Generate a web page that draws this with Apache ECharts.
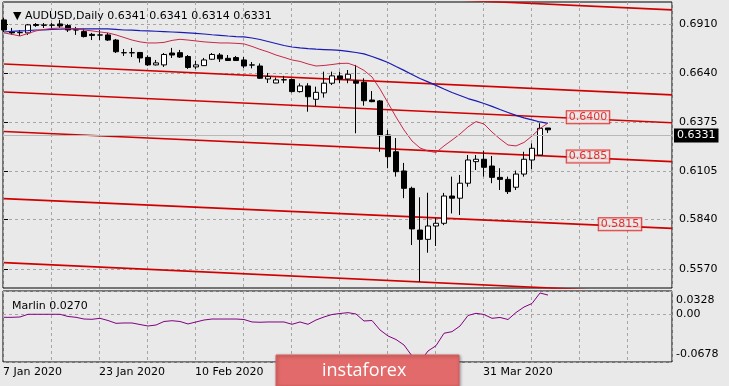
<!DOCTYPE html>
<html><head><meta charset="utf-8">
<script src="https://cdn.jsdelivr.net/npm/echarts@6/dist/echarts.min.js"></script>
<style>html,body{margin:0;padding:0;background:#e9e9e9}#c{width:729px;height:386px}</style>
</head><body><div id="c"></div>
<script>
const symbolName = 'AUDUSD,Daily';
const dates = ['7 Jan 2020','8 Jan 2020','9 Jan 2020','10 Jan 2020','13 Jan 2020','14 Jan 2020','15 Jan 2020','16 Jan 2020','17 Jan 2020','20 Jan 2020',
'21 Jan 2020','22 Jan 2020','23 Jan 2020','24 Jan 2020','27 Jan 2020','28 Jan 2020','29 Jan 2020','30 Jan 2020','31 Jan 2020','3 Feb 2020',
'4 Feb 2020','5 Feb 2020','6 Feb 2020','7 Feb 2020','10 Feb 2020','11 Feb 2020','12 Feb 2020','13 Feb 2020','14 Feb 2020','17 Feb 2020',
'18 Feb 2020','19 Feb 2020','20 Feb 2020','21 Feb 2020','24 Feb 2020','25 Feb 2020','26 Feb 2020','27 Feb 2020','28 Feb 2020','2 Mar 2020',
'3 Mar 2020','4 Mar 2020','5 Mar 2020','6 Mar 2020','9 Mar 2020','10 Mar 2020','11 Mar 2020','12 Mar 2020','13 Mar 2020','16 Mar 2020',
'17 Mar 2020','18 Mar 2020','19 Mar 2020','20 Mar 2020','23 Mar 2020','24 Mar 2020','25 Mar 2020','26 Mar 2020','27 Mar 2020','30 Mar 2020',
'31 Mar 2020','1 Apr 2020','2 Apr 2020','3 Apr 2020','6 Apr 2020','7 Apr 2020','8 Apr 2020','9 Apr 2020','10 Apr 2020'];
const opens = [0.6932,0.6866,0.6862,0.6861,0.6907,0.6904,0.6903,0.6910,0.6901,0.6878,
0.6868,0.6853,0.6850,0.6850,0.6822,0.6752,0.6753,0.6754,0.6727,0.6686,
0.6686,0.6751,0.6753,0.6732,0.6675,0.6682,0.6717,0.6740,0.6722,0.6726,
0.6713,0.6686,0.6680,0.6609,0.6587,0.6604,0.6606,0.6540,0.6571,0.6498,
0.6533,0.6586,0.6626,0.6609,0.6598,0.6591,0.6494,0.6489,0.6303,0.6211,
0.6106,0.6011,0.5783,0.5732,0.5805,0.5820,0.5969,0.5957,0.6039,0.6157,
0.6170,0.6133,0.6071,0.6060,0.6017,0.6089,0.6166,0.6193,0.6341];
const highs = [0.6943,0.6888,0.6877,0.6910,0.6915,0.6915,0.6915,0.6932,0.6910,0.6894,
0.6883,0.6861,0.6877,0.6861,0.6828,0.6773,0.6779,0.6757,0.6738,0.6713,
0.6751,0.6779,0.6768,0.6740,0.6709,0.6724,0.6751,0.6751,0.6740,0.6735,
0.6729,0.6702,0.6694,0.6642,0.6617,0.6626,0.6612,0.6585,0.6586,0.6567,
0.6649,0.6649,0.6649,0.6658,0.6686,0.6613,0.6543,0.6494,0.6330,0.6286,
0.6150,0.6020,0.5962,0.5987,0.5849,0.5986,0.6075,0.6084,0.6193,0.6193,
0.6217,0.6188,0.6121,0.6075,0.6108,0.6211,0.6257,0.6367,0.6341];
const lows = [0.6866,0.6850,0.6844,0.6850,0.6894,0.6888,0.6888,0.6888,0.6866,0.6850,
0.6836,0.6822,0.6822,0.6817,0.6751,0.6735,0.6729,0.6699,0.6680,0.6683,
0.6675,0.6724,0.6724,0.6664,0.6664,0.6680,0.6713,0.6702,0.6708,0.6708,
0.6669,0.6667,0.6609,0.6587,0.6586,0.6586,0.6535,0.6535,0.6430,0.6461,
0.6507,0.6576,0.6586,0.6586,0.6312,0.6463,0.6482,0.6211,0.6121,0.6075,
0.5957,0.5701,0.5500,0.5659,0.5696,0.5810,0.5874,0.5865,0.6020,0.6111,
0.6075,0.6039,0.6002,0.5980,0.6002,0.6075,0.6115,0.6193,0.6314];
const closes = [0.6877,0.6861,0.6864,0.6905,0.6902,0.6903,0.6904,0.6899,0.6877,0.6877,
0.6841,0.6847,0.6849,0.6822,0.6758,0.6753,0.6752,0.6724,0.6686,0.6697,
0.6743,0.6740,0.6729,0.6672,0.6686,0.6713,0.6743,0.6719,0.6710,0.6710,
0.6680,0.6685,0.6613,0.6622,0.6604,0.6605,0.6540,0.6571,0.6512,0.6536,
0.6586,0.6626,0.6609,0.6635,0.6586,0.6490,0.6485,0.6299,0.6184,0.6102,
0.6011,0.5789,0.5732,0.5805,0.5820,0.5969,0.5957,0.6039,0.6166,0.6170,
0.6126,0.6071,0.6060,0.5993,0.6089,0.6170,0.6230,0.6339,0.6331];
const maSlow = [0.6866,0.6869,0.6872,0.6874,0.6877,0.6878,0.6880,0.6881,0.6883,0.6883,
0.6883,0.6883,0.6883,0.6883,0.6880,0.6877,0.6876,0.6873,0.6872,0.6870,
0.6868,0.6866,0.6864,0.6861,0.6858,0.6855,0.6851,0.6848,0.6844,0.6841,
0.6839,0.6833,0.6825,0.6814,0.6803,0.6792,0.6784,0.6779,0.6775,0.6772,
0.6770,0.6768,0.6765,0.6760,0.6754,0.6746,0.6732,0.6716,0.6699,0.6677,
0.6656,0.6634,0.6612,0.6593,0.6574,0.6554,0.6535,0.6519,0.6502,0.6489,
0.6475,0.6459,0.6442,0.6426,0.6410,0.6396,0.6385,0.6374,0.6366];
const maFast = [0.6861,0.6853,0.6844,0.6858,0.6872,0.6880,0.6885,0.6888,0.6885,0.6883,
0.6877,0.6872,0.6866,0.6861,0.6850,0.6836,0.6822,0.6812,0.6806,0.6806,
0.6809,0.6820,0.6826,0.6822,0.6817,0.6812,0.6809,0.6806,0.6806,0.6804,
0.6801,0.6787,0.6771,0.6757,0.6740,0.6727,0.6713,0.6705,0.6691,0.6680,
0.6683,0.6688,0.6694,0.6695,0.6680,0.6656,0.6620,0.6554,0.6478,0.6401,
0.6330,0.6270,0.6232,0.6215,0.6207,0.6243,0.6275,0.6308,0.6347,0.6376,
0.6363,0.6319,0.6281,0.6248,0.6243,0.6262,0.6297,0.6338,0.6368];
const marlin = [-0.0045,-0.0045,-0.0040,-0.0002,-0.0002,-0.0002,-0.0002,-0.0002,-0.0033,-0.0045,
-0.0069,-0.0073,-0.0059,-0.0090,-0.0130,-0.0125,-0.0125,-0.0147,-0.0168,-0.0154,
-0.0104,-0.0093,-0.0104,-0.0139,-0.0111,-0.0083,-0.0069,-0.0069,-0.0069,-0.0069,
-0.0076,-0.0111,-0.0115,-0.0111,-0.0111,-0.0111,-0.0144,-0.0111,-0.0144,-0.0083,
-0.0040,-0.0005,0.0009,0.0021,0.0002,-0.0097,-0.0090,-0.0224,-0.0309,-0.0359,
-0.0437,-0.0593,-0.0678,-0.0522,-0.0447,-0.0271,-0.0248,-0.0168,-0.0019,0.0012,
-0.0005,-0.0059,-0.0047,-0.0076,0.0023,0.0101,0.0151,0.0300,0.0270];
const channelStart = [0.7155,0.6691,0.6538,0.6322,0.5955,0.5605];
const channelEnd   = [0.6987,0.6522,0.6370,0.6157,0.5792,0.5435];
const channelBars = [0, 83.5];
const levelValues = [0.6400, 0.6185, 0.5815];
const levelBars = [73, 73, 77];
const priceTicks = [0.5570, 0.5840, 0.6105, 0.6375, 0.6640, 0.6910];
const marlinTicks = [-0.0678, 0, 0.0328];

const FONT = 'DejaVu Sans';
const barMin = -0.125, barMax = 83.5;
const priceMin = 0.5466, priceMax = 0.7030;
const dash = {color:'#a6a6a6', type:[3,3], width:1};
const last = closes.length - 1;

const candleData = opens.map((o,i)=>[i, o, closes[i], lows[i], highs[i]]);
const series = [];
channelStart.forEach((s,k)=>{
  series.push({type:'line', xAxisIndex:0, yAxisIndex:0, z:1, symbol:'none', silent:true,
    lineStyle:{color:'#d00000', width:1.6},
    data:[[channelBars[0], s],[channelBars[1], channelEnd[k]]]});
});
series.push({type:'candlestick', xAxisIndex:0, yAxisIndex:0, z:3, barWidth:5,
  itemStyle:{color:'#ffffff', color0:'#000000', borderColor:'#000000', borderColor0:'#000000', borderWidth:1},
  data: candleData,
  markLine:{silent:true, symbol:['none','none'], animation:false,
    lineStyle:{color:'#b8b8b8', type:'solid', width:1},
    label:{show:true, position:'end', distance:2, formatter: closes[last].toFixed(4),
      color:'#fff', backgroundColor:'#000', padding:[2,3,1,3], fontFamily:FONT, fontSize:11},
    data:[{yAxis: closes[last]}]}
});
series.push({type:'line', xAxisIndex:0, yAxisIndex:0, z:4, symbol:'none', silent:true,
  lineStyle:{color:'#1a1ab4', width:1.2}, data: maSlow.map((v,i)=>[i,v])});
series.push({type:'line', xAxisIndex:0, yAxisIndex:0, z:4, symbol:'none', silent:true,
  lineStyle:{color:'#c8284a', width:1}, data: maFast.map((v,i)=>[i,v])});
series.push({type:'scatter', xAxisIndex:0, yAxisIndex:0, z:6, symbolSize:0, silent:true,
  data: levelValues.map((v,k)=>[levelBars[k], v]),
  label:{show:true, position:'inside', formatter:p=>p.value[1].toFixed(4),
    color:'#e00000', borderColor:'#e00000', borderWidth:1, backgroundColor:'#e9e9e9',
    padding:[1,2,0,2], fontFamily:FONT, fontSize:11}});
series.push({type:'line', xAxisIndex:1, yAxisIndex:1, z:3, symbol:'none', silent:true,
  lineStyle:{color:'#800080', width:1}, data: marlin.map((v,i)=>[i,v])});

const option = {
  backgroundColor:'#e9e9e9',
  animation:false,
  textStyle:{fontFamily:FONT},
  title:[
    {left:8, top:6, text:'{t|▼} ' + symbolName + ' ' + [opens[last],highs[last],lows[last],closes[last]].map(v=>v.toFixed(4)).join(' '),
     textStyle:{fontFamily:FONT, fontSize:11, fontWeight:'normal', color:'#000',
       rich:{t:{fontSize:11, fontFamily:FONT, color:'#000'}}}},
    {left:7, top:296, text:'Marlin ' + marlin[last].toFixed(4),
     textStyle:{fontFamily:FONT, fontSize:11, fontWeight:'normal', color:'#000'}}
  ],
  grid:[
    {left:3, top:2, width:669, height:286, show:true, borderColor:'#000', borderWidth:1, backgroundColor:'transparent'},
    {left:3, top:291, width:669, height:71, show:true, borderColor:'#000', borderWidth:1, backgroundColor:'transparent'}
  ],
  xAxis:[
    {gridIndex:0, type:'value', min:barMin, max:barMax, interval:6,
     axisLine:{show:false}, axisTick:{show:false}, axisLabel:{show:false}, splitLine:{show:true, lineStyle:dash}},
    {gridIndex:1, type:'value', min:barMin, max:barMax, interval:6,
     axisLine:{show:false}, axisTick:{show:false},
     axisLabel:{show:true, align:'left', margin:5, color:'#000', fontFamily:FONT, fontSize:11, hideOverlap:false,
       formatter:v=>{const i=Math.round(v); return (i>=0 && i%12===0 && i<dates.length) ? dates[i] : '';}},
     splitLine:{show:true, lineStyle:dash}}
  ],
  yAxis:[
    {gridIndex:0, type:'value', position:'right', min:priceMin, max:priceMax, scale:true,
     axisLine:{show:false},
     axisTick:{show:true, length:4, lineStyle:{color:'#000'}, customValues:priceTicks},
     axisLabel:{show:true, margin:7, color:'#000', fontFamily:FONT, fontSize:11, customValues:priceTicks,
       formatter:v=>v.toFixed(4)},
     splitLine:{show:true, lineStyle:dash}},
    {gridIndex:1, type:'value', position:'right', min:marlinTicks[0], max:marlinTicks[2], scale:true,
     axisLine:{show:false},
     axisTick:{show:false, customValues:marlinTicks},
     axisLabel:{show:true, margin:4, color:'#000', fontFamily:FONT, fontSize:11, customValues:marlinTicks,
       formatter:v=> v===0 ? '{m|0.00}' : (v>0 ? '{t|'+v.toFixed(4)+'}' : '{b|'+v.toFixed(4)+'}'),
       rich:{m:{fontFamily:FONT,fontSize:11,color:'#000'},
             t:{fontFamily:FONT,fontSize:11,color:'#000',padding:[18,0,0,0]},
             b:{fontFamily:FONT,fontSize:11,color:'#000',padding:[0,0,16,0]}}},
     splitLine:{show:true, lineStyle:dash}}
  ],
  graphic:[
    {type:'rect', z:100, shape:{x:276, y:355, width:183, height:31},
     style:{fill:'#e26a6a', stroke:'#d85c5c', lineWidth:1, shadowBlur:3, shadowColor:'rgba(0,0,0,0.35)', shadowOffsetX:1, shadowOffsetY:1}},
    {type:'text', z:101, x:322, y:371,
     style:{text:'instaforex', fill:'#ffffff', font:'18px "Open Sans"', verticalAlign:'middle', align:'left'}}
  ],
  series: series
};
const chart = echarts.init(document.getElementById('c'), null, {renderer:'canvas'});
chart.setOption(option);
</script></body></html>
